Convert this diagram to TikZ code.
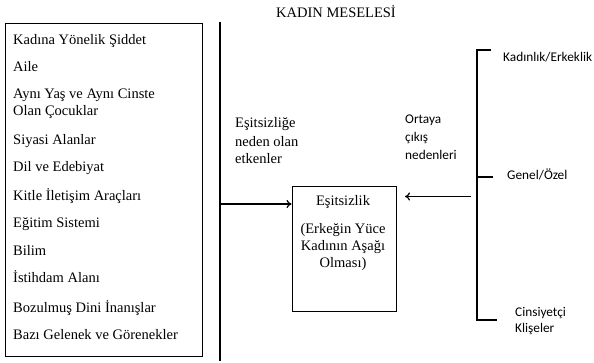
\documentclass[tikz,border=0pt]{standalone}
\usepackage{fontspec}
\setmainfont{Liberation Serif}
\newfontfamily\calib{Carlito}
\usetikzlibrary{arrows.meta}
\begin{document}
\begin{tikzpicture}[x=1pt,y=-1pt,
  serif/.style={font=\fontsize{14.5}{17}\selectfont, inner sep=0pt},
  item/.style={serif, anchor=base west},
  sans/.style={font=\calib\fontsize{13.3}{16}\selectfont, inner sep=0pt, anchor=base west},
  frame/.style={draw, line width=0.9pt},
  thick line/.style={line width=1.8pt},
  arrowline/.style={line width=1.4pt, -{To[length=5pt,width=8pt,line width=1.2pt]}}
]
\useasboundingbox (0,0) rectangle (594,363);

% title
\node[serif, anchor=base] (title) at (336,17.3) {KADIN MESELESİ};

% left box
\node[frame, minimum width=197pt, minimum height=333pt, inner sep=0pt] (list) at (103.5,189.5) {};
\node[item] (l1) at (13,45) {Kadına Yönelik Şiddet};
\node[item] (l2) at (13,71.5) {Aile};
\node[item] (l3) at (13,99) {Aynı Yaş ve Aynı Cinste};
\node[item] (l3b) at (13,116) {Olan Çocuklar};
\node[item] (l4) at (13,145) {Siyasi Alanlar};
\node[item] (l5) at (13,172) {Dil ve Edebiyat};
\node[item] (l6) at (13,201) {Kitle İletişim Araçları};
\node[item] (l7) at (13,228) {Eğitim Sistemi};
\node[item] (l8) at (13,255) {Bilim};
\node[item] (l9) at (13,283) {İstihdam Alanı};
\node[item] (l10) at (13,312) {Bozulmuş Dini İnanışlar};
\node[item] (l11) at (13,339) {Bazı Gelenek ve Görenekler};

% vertical line
\coordinate (vtop) at (220,22);
\coordinate (vbot) at (220,361);
\draw[thick line] (vtop) -- (vbot);

% left label
\node[item] (e1) at (235,128) {Eşitsizliğe};
\node[item] (e2) at (235,146.5) {neden olan};
\node[item] (e3) at (235,163.5) {etkenler};

% central box
\node[frame, minimum width=104pt, minimum height=125pt, inner sep=0pt] (eq) at (344,248.5) {};
\node[serif, anchor=base] (q1) at (343,206) {Eşitsizlik};
\node[serif, anchor=base] (q2) at (343,233.5) {(Erkeğin Yüce};
\node[serif, anchor=base] (q3) at (343,250.6) {Kadının Aşağı};
\node[serif, anchor=base] (q4) at (343,268) {Olması)};

% arrows
\coordinate (la) at (220,204);
\draw[arrowline] (la) -- (eq.west |- la);
\coordinate (ra) at (471,196.5);
\coordinate (rend) at (405,196.5);
\draw[arrowline] (ra) -- (rend);

% right labels
\node[sans] (o1) at (405,123.5) {Ortaya};
\node[sans] (o2) at (405,141.5) {çıkış};
\node[sans] (o3) at (405,159.5) {nedenleri};

% bracket
\coordinate (btop) at (477,50);
\coordinate (bmid) at (477,177);
\coordinate (bbot) at (477,320);
\coordinate (ttop) at (491,50);
\coordinate (tmid) at (493,177);
\coordinate (tbot) at (497,320);
\draw[thick line] (ttop) -- (btop) -- (bbot) -- (tbot);
\draw[thick line] (bmid) -- (tmid);

\node[sans] (k1) at (503,62) {Kadınlık/Erkeklik};
\node[sans] (k2) at (507,180) {Genel/Özel};
\node[sans] (k3) at (515,316) {Cinsiyetçi};
\node[sans] (k4) at (515,332.5) {Klişeler};
\end{tikzpicture}
\end{document}
